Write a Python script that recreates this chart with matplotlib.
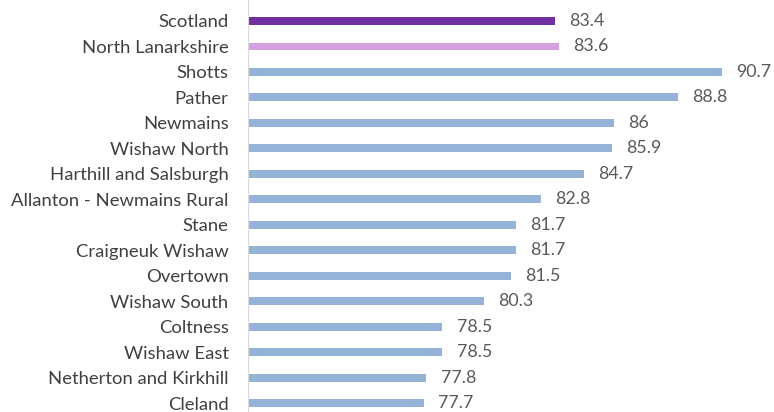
import matplotlib.pyplot as plt

areas = ['Scotland', 'North Lanarkshire', 'Shotts', 'Pather', 'Newmains',
         'Wishaw North', 'Harthill and Salsburgh', 'Allanton - Newmains Rural',
         'Stane', 'Craigneuk Wishaw', 'Overtown', 'Wishaw South', 'Coltness',
         'Wishaw East', 'Netherton and Kirkhill', 'Cleland']
values = [83.4, 83.6, 90.7, 88.8, 86, 85.9, 84.7, 82.8, 81.7, 81.7, 81.5,
          80.3, 78.5, 78.5, 77.8, 77.7]
colors = ['#7030A0', '#D5A0E0'] + ['#95B3D7'] * (len(areas) - 2)

plt.rcParams['font.family'] = ['Lato', 'DejaVu Sans']

fig = plt.figure(figsize=(7.74, 4.12), dpi=100)
ax = fig.add_axes([248 / 774, 0, 1 - 248 / 774, 1])

base = 70
pos = list(range(len(areas)))
ax.barh(pos, [v - base for v in values], left=base, height=0.31, color=colors)

for p, v in zip(pos, values):
    ax.text(v + 0.62, p, f'{v:g}', va='center', ha='left', fontsize=12.8,
            color='#595959')

ax.set_xlim(base, base + (774 - 248) / 22.88)
ax.set_ylim(15.35, -0.824)
ax.set_yticks(pos)
ax.set_yticklabels(areas, fontsize=13.3, color='#404040')
ax.tick_params(axis='y', length=0, pad=14)
ax.set_xticks([])
for s in ['top', 'right', 'bottom']:
    ax.spines[s].set_visible(False)
ax.spines['left'].set_color('#D9D9D9')

fig.savefig('out.png', dpi=100)
